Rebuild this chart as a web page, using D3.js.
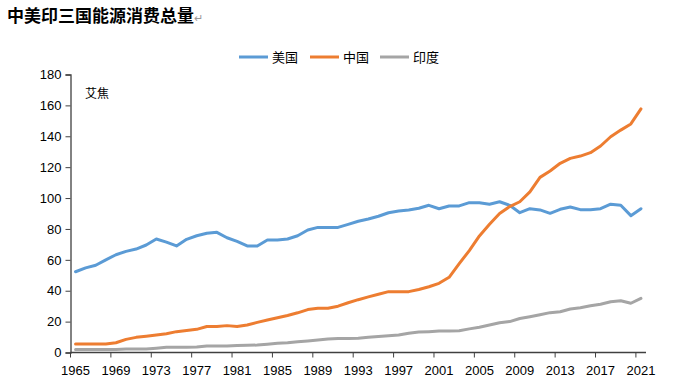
<!DOCTYPE html>
<html>
<head>
<meta charset="utf-8">
<script src="https://cdn.jsdelivr.net/npm/d3@7"></script>
<style>
  body { margin: 0; background: #fff; }
  svg { display: block; }
</style>
</head>
<body>
<svg id="chart" width="675" height="386"></svg>
<script>
// data
var years = d3.range(1965, 2022);
var tickYears = [1965, 1969, 1973, 1977, 1981, 1985, 1989, 1993, 1997, 2001, 2005, 2009, 2013, 2017, 2021];
var yTicks = [0, 20, 40, 60, 80, 100, 120, 140, 160, 180];

var usa = [52.3, 54.8, 56.5, 60, 63.3, 65.5, 67, 69.6, 73.5, 71.5,
  69, 73.3, 75.6, 77.2, 77.8, 74.3, 72, 69, 69, 72.8,
  72.8, 73.5, 75.6, 79.3, 81, 81, 81, 83, 85, 86.4,
  88.2, 90.5, 91.6, 92.3, 93.4, 95.3, 93.1, 94.9, 94.9, 97,
  97, 96, 97.6, 95.3, 90.5, 93.1, 92.3, 90.1, 92.7, 94.2,
  92.5, 92.5, 93.1, 96, 95.3, 88.6, 93.1];
var china = [5.5, 5.5, 5.5, 5.5, 6.3, 8.5, 9.8, 10.5, 11.3, 12.2,
  13.5, 14.2, 15, 16.8, 16.8, 17.4, 16.8, 17.8, 19.5, 21,
  22.5, 24, 25.7, 27.8, 28.6, 28.6, 30, 32.2, 34.2, 36,
  37.7, 39.4, 39.4, 39.4, 40.8, 42.6, 44.8, 48.7, 57.5, 66,
  75.5, 83, 90, 94.5, 97.6, 104, 113.4, 117.5, 122.5, 125.7,
  127.2, 129.4, 133.7, 139.7, 144, 148, 157.7];
var india = [2, 2, 2, 2, 2, 2.2, 2.2, 2.3, 2.8, 3.4,
  3.4, 3.4, 3.5, 4.2, 4.2, 4.2, 4.6, 4.7, 4.8, 5.4,
  6, 6.3, 7, 7.5, 8.1, 8.7, 9, 9.1, 9.2, 9.8,
  10.4, 10.9, 11.3, 12.5, 13.2, 13.5, 13.9, 14, 14.1, 15.3,
  16.4, 17.8, 19.3, 20, 22, 23.2, 24.5, 25.8, 26.4, 28.2,
  29, 30.3, 31.2, 32.9, 33.5, 31.9, 35.1];

var seriesNames = ["美国", "中国", "印度"];
var seriesColors = ["#5B9BD5", "#ED7D31", "#A5A5A5"];
var seriesValues = [usa, china, india];

var svg = d3.select("#chart");
var font = "'Liberation Sans', Arial, sans-serif";
var cjk = "'Noto Sans CJK SC', sans-serif";

var plotLeft = 70.5, plotRight = 646, plotTop = 74.5, plotBottom = 352.5;

var x = d3.scaleBand().domain(years).range([plotLeft, plotRight]).paddingInner(0).paddingOuter(0);
var y = d3.scaleLinear().domain([0, 180]).range([plotBottom, plotTop]);

// title
svg.append("text")
  .attr("x", 7).attr("y", 22)
  .attr("font-family", cjk).attr("font-weight", "bold")
  .attr("font-size", 17).attr("fill", "#000")
  .text("中美印三国能源消费总量");
svg.append("text")
  .attr("x", 7 + 187).attr("y", 22)
  .attr("font-family", font).attr("font-size", 11).attr("fill", "#999")
  .text("↵");

// legend
var legend = svg.append("g");
var legendX = [239, 310, 380];
seriesNames.forEach(function(n, i) {
  legend.append("line")
    .attr("x1", legendX[i]).attr("x2", legendX[i] + 29)
    .attr("y1", 57).attr("y2", 57)
    .attr("stroke", seriesColors[i]).attr("stroke-width", 3);
  legend.append("text")
    .attr("x", legendX[i] + 33).attr("y", 62)
    .attr("font-family", cjk).attr("font-size", 13).attr("fill", "#000")
    .text(n);
});

// y axis
var yAxis = svg.append("g")
  .attr("transform", "translate(" + plotLeft + ",0)")
  .call(d3.axisLeft(y).tickValues(yTicks).tickSize(5).tickPadding(4));
yAxis.select(".domain").attr("stroke", "#404040").attr("stroke-width", 1.3);
yAxis.selectAll(".tick line").attr("stroke", "#404040");
yAxis.selectAll("text").attr("font-family", font).attr("font-size", 13).attr("fill", "#000");

// x axis, ticks between categories every 4 years
var xAxisG = svg.append("g").attr("transform", "translate(0," + plotBottom + ")");
xAxisG.append("line")
  .attr("x1", plotLeft).attr("x2", plotRight)
  .attr("stroke", "#404040").attr("stroke-width", 1.3);
xAxisG.selectAll(".xt").data(tickYears).enter().append("line")
  .attr("class", "xt")
  .attr("x1", function(d) { return x(d); }).attr("x2", function(d) { return x(d); })
  .attr("y1", 0).attr("y2", 5)
  .attr("stroke", "#404040");
xAxisG.selectAll(".xl").data(tickYears).enter().append("text")
  .attr("class", "xl")
  .attr("x", function(d) { return x(d) + x.bandwidth() / 2; })
  .attr("y", 22)
  .attr("text-anchor", "middle")
  .attr("font-family", font).attr("font-size", 13).attr("fill", "#000")
  .text(function(d) { return d; });

// unit label
svg.append("text")
  .attr("x", 85).attr("y", 98)
  .attr("font-family", cjk).attr("font-size", 12).attr("fill", "#000")
  .text("艾焦");

// lines
var line = d3.line()
  .x(function(d, i) { return x(years[i]) + x.bandwidth() / 2; })
  .y(function(d) { return y(d); });

[0, 2, 1].forEach(function(i) {
  svg.append("path")
    .datum(seriesValues[i])
    .attr("d", line)
    .attr("fill", "none")
    .attr("stroke", seriesColors[i])
    .attr("stroke-width", 3)
    .attr("stroke-linejoin", "round")
    .attr("stroke-linecap", "round");
});
</script>
</body>
</html>
